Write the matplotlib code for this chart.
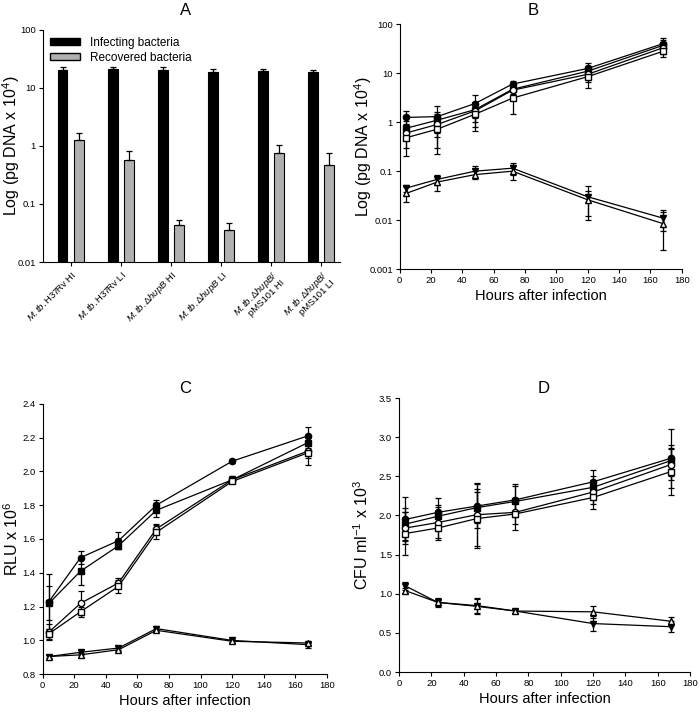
#!/usr/bin/env python3
import matplotlib
matplotlib.use('Agg')
import matplotlib.pyplot as plt
from matplotlib.patches import Patch
import numpy as np

plt.rcParams['font.family'] = ['Liberation Sans', 'DejaVu Sans']
plt.rcParams['mathtext.fontset'] = 'custom'
plt.rcParams['mathtext.rm'] = 'Liberation Sans'
plt.rcParams['mathtext.it'] = 'Liberation Sans:italic'

# panel A
strains = [r'$\it{M.tb.}$H37Rv HI', r'$\it{M.tb.}$H37Rv LI',
           r'$\it{M.tb.}\Delta\it{hupB}$ HI', r'$\it{M.tb.}\Delta\it{hupB}$ LI',
           r'$\it{M.tb.}\Delta\it{hupB}$/' + '\npMS101 HI',
           r'$\it{M.tb.}\Delta\it{hupB}$/' + '\npMS101 LI']
infecting = [20.5, 21.5, 20.5, 18.5, 19.5, 18.5]
infecting_err = [2.0, 1.0, 2.8, 2.5, 2.0, 1.8]
recovered = [1.25, 0.58, 0.043, 0.035, 0.77, 0.47]
recovered_err = [0.45, 0.25, 0.011, 0.012, 0.28, 0.3]

# time course panels
hours = [4, 24, 48, 72, 120, 168]

b_fc = [1.25, 1.3, 2.4, 6.0, 12.5, 40]
b_fc_err = [0.45, 0.8, 1.2, 0.8, 3.5, 12]
b_fs = [0.75, 1.1, 1.8, 4.7, 11, 37]
b_fs_err = [0.3, 0.5, 0.8, 1.0, 3, 10]
b_oc = [0.6, 0.9, 1.7, 4.5, 9.5, 33]
b_oc_err = [0.3, 0.6, 0.9, 1.5, 3, 8]
b_os = [0.48, 0.72, 1.45, 3.1, 8.5, 28]
b_os_err = [0.28, 0.5, 0.8, 1.6, 3.5, 7]
b_ft = [0.045, 0.068, 0.1, 0.115, 0.03, 0.011]
b_ft_err = [0.008, 0.015, 0.025, 0.03, 0.02, 0.005]
b_ot = [0.035, 0.06, 0.085, 0.1, 0.026, 0.0085]
b_ot_err = [0.012, 0.02, 0.015, 0.035, 0.014, 0.006]

c_fc = [1.23, 1.49, 1.59, 1.80, 2.06, 2.21]
c_fc_err = [0.16, 0.04, 0.05, 0.03, 0.01, 0.05]
c_fs = [1.22, 1.41, 1.56, 1.77, 1.95, 2.17]
c_fs_err = [0.1, 0.08, 0.02, 0.04, 0.02, 0.03]
c_oc = [1.05, 1.22, 1.34, 1.66, 1.95, 2.12]
c_oc_err = [0.05, 0.07, 0.03, 0.03, 0.02, 0.04]
c_os = [1.04, 1.17, 1.32, 1.64, 1.94, 2.11]
c_os_err = [0.03, 0.03, 0.04, 0.04, 0.01, 0.07]
c_ft = [0.905, 0.93, 0.955, 1.07, 1.0, 0.975]
c_ft_err = [0.01, 0.015, 0.01, 0.015, 0.01, 0.02]
c_ot = [0.905, 0.915, 0.945, 1.06, 0.995, 0.985]
c_ot_err = [0.01, 0.01, 0.01, 0.01, 0.01, 0.01]

d_fs = [1.95, 2.04, 2.12, 2.2, 2.43, 2.73]
d_fs_err = [0.28, 0.18, 0.28, 0.2, 0.15, 0.38]
d_fc = [1.89, 1.99, 2.10, 2.18, 2.36, 2.70]
d_fc_err = [0.2, 0.15, 0.2, 0.2, 0.15, 0.2]
d_oc = [1.84, 1.91, 2.01, 2.04, 2.30, 2.65]
d_oc_err = [0.2, 0.2, 0.4, 0.15, 0.15, 0.2]
d_os = [1.77, 1.84, 1.96, 2.02, 2.23, 2.56]
d_os_err = [0.28, 0.15, 0.38, 0.2, 0.15, 0.3]
d_ft = [1.1, 0.89, 0.84, 0.78, 0.62, 0.58]
d_ft_err = [0.05, 0.05, 0.1, 0.03, 0.1, 0.07]
d_ot = [1.04, 0.89, 0.85, 0.78, 0.77, 0.65]
d_ot_err = [0.03, 0.06, 0.1, 0.03, 0.08, 0.05]

styles = [('o', 'k'), ('s', 'k'), ('o', 'w'), ('s', 'w'), ('v', 'k'), ('^', 'w')]


def style_axes(ax):
    ax.spines['top'].set_visible(False)
    ax.spines['right'].set_visible(False)
    ax.tick_params(direction='out', labelsize=6.8, length=3, width=0.8, pad=2)
    ax.tick_params(which='minor', length=0)


def plot_series(ax, series):
    for (vals, errs), (m, fc) in zip(series, styles):
        ax.errorbar(hours, vals, yerr=errs, marker=m, markerfacecolor=fc,
                    markeredgecolor='k', markersize=4.5, color='k', lw=0.9,
                    elinewidth=0.9, capsize=2.5, capthick=0.9)


def time_xaxis(ax):
    ax.set_xlim(0, 180)
    ax.set_xticks(np.arange(0, 181, 20))
    ax.set_xlabel('Hours after infection', fontsize=10.5, labelpad=3)


fig = plt.figure(figsize=(7, 7.12), dpi=100)

# A
ax = fig.add_axes([0.061, 0.632, 0.425, 0.326])
x = np.arange(len(strains))
w = 0.19
ax.bar(x - 0.16, infecting, w, color='k', edgecolor='k', lw=0.8,
       yerr=[np.zeros(6), infecting_err], error_kw=dict(capsize=2.5, elinewidth=0.9, capthick=0.9))
ax.bar(x + 0.16, recovered, w, color='#b0b0b0', edgecolor='k', lw=0.8,
       yerr=[np.zeros(6), recovered_err], error_kw=dict(capsize=2.5, elinewidth=0.9, capthick=0.9))
ax.set_yscale('log')
ax.set_ylim(0.01, 100)
ax.set_xlim(-0.56, 5.38)
ax.set_yticks([0.01, 0.1, 1, 10, 100])
ax.set_yticklabels(['0.01', '0.1', '1', '10', '100'])
ax.set_xticks(x)
ax.set_xticklabels(strains, rotation=45, ha='right', rotation_mode='anchor',
                   fontsize=8.5, linespacing=1.0)
ax.set_ylabel(r'Log (pg DNA x 10$^4$)', fontsize=11.5)
ax.yaxis.set_label_coords(-0.068, 0.5)
style_axes(ax)
ax.legend(handles=[Patch(facecolor='k', edgecolor='k', label='Infecting bacteria'),
                   Patch(facecolor='#b0b0b0', edgecolor='k', label='Recovered bacteria')],
          loc='upper left', frameon=False, fontsize=8.5, handlelength=2.6,
          handleheight=0.55, borderaxespad=0.2, labelspacing=0.25)
fig.text(0.265, 0.985, 'A', fontsize=12, ha='center', va='center')

# B
ax = fig.add_axes([0.571, 0.622, 0.403, 0.344])
plot_series(ax, [(b_fc, b_fc_err), (b_fs, b_fs_err), (b_oc, b_oc_err),
                 (b_os, b_os_err), (b_ft, b_ft_err), (b_ot, b_ot_err)])
ax.set_yscale('log')
ax.set_ylim(0.001, 100)
ax.set_yticks([0.001, 0.01, 0.1, 1, 10, 100])
ax.set_yticklabels(['0.001', '0.01', '0.1', '1', '10', '100'])
time_xaxis(ax)
ax.set_ylabel(r'Log (pg DNA x 10$^4$)', fontsize=11.5)
ax.yaxis.set_label_coords(-0.09, 0.5)
style_axes(ax)
fig.text(0.762, 0.985, 'B', fontsize=12, ha='center', va='center')

# C
ax = fig.add_axes([0.061, 0.053, 0.406, 0.38])
plot_series(ax, [(c_fc, c_fc_err), (c_fs, c_fs_err), (c_oc, c_oc_err),
                 (c_os, c_os_err), (c_ft, c_ft_err), (c_ot, c_ot_err)])
ax.set_ylim(0.8, 2.4)
ax.set_yticks(np.arange(0.8, 2.41, 0.2))
ax.set_yticklabels(['%.1f' % v for v in np.arange(0.8, 2.41, 0.2)])
time_xaxis(ax)
ax.set_ylabel(r'RLU x 10$^6$', fontsize=11.5)
ax.yaxis.set_label_coords(-0.075, 0.5)
style_axes(ax)
fig.text(0.265, 0.455, 'C', fontsize=12, ha='center', va='center')

# D
ax = fig.add_axes([0.570, 0.056, 0.416, 0.385])
plot_series(ax, [(d_fs, d_fs_err), (d_fc, d_fc_err), (d_oc, d_oc_err),
                 (d_os, d_os_err), (d_ft, d_ft_err), (d_ot, d_ot_err)])
ax.set_ylim(0, 3.5)
ax.set_yticks(np.arange(0, 3.51, 0.5))
ax.set_yticklabels(['%.1f' % v for v in np.arange(0, 3.51, 0.5)])
time_xaxis(ax)
ax.set_ylabel(r'CFU ml$^{-1}$ x 10$^3$', fontsize=11.5)
ax.yaxis.set_label_coords(-0.095, 0.5)
style_axes(ax)
fig.text(0.776, 0.455, 'D', fontsize=12, ha='center', va='center')

fig.savefig('out.png', dpi=100)
